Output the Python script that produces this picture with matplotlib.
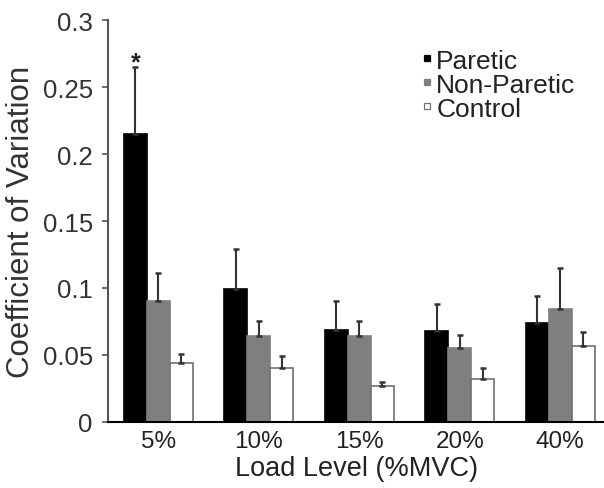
import matplotlib
matplotlib.use("Agg")
import matplotlib.pyplot as plt
from matplotlib.lines import Line2D
import numpy as np

plt.rcParams['font.family'] = ['Liberation Sans', 'DejaVu Sans']

loads = ['5%', '10%', '15%', '20%', '40%']
paretic = [0.215, 0.099, 0.069, 0.068, 0.074]
paretic_err = [0.050, 0.030, 0.021, 0.020, 0.020]
non_paretic = [0.090, 0.064, 0.064, 0.055, 0.084]
non_paretic_err = [0.021, 0.011, 0.011, 0.010, 0.031]
control = [0.044, 0.040, 0.027, 0.032, 0.057]
control_err = [0.007, 0.0095, 0.003, 0.008, 0.010]

fig = plt.figure(figsize=(6.04, 4.89), dpi=100)
ax = fig.add_axes([0.179, 0.135, 0.821, 0.822])

x = np.arange(len(loads))
w = 0.229
err_kw = dict(ecolor='#333333', elinewidth=1.5, capsize=2.2, capthick=1.8)

series = [
    ('Paretic', paretic, paretic_err, 'black', 'black', -w),
    ('Non-Paretic', non_paretic, non_paretic_err, '#7f7f7f', '#7f7f7f', 0),
    ('Control', control, control_err, 'white', '#707070', w),
]
handles = []
for name, vals, errs, fc, ec, off in series:
    ax.bar(x + off, vals, width=w, color=fc, edgecolor=ec, linewidth=1.2,
           yerr=[np.zeros(len(errs)), errs], error_kw=err_kw)
    handles.append(Line2D([], [], marker='s', ls='', markersize=4.5,
                          markerfacecolor=fc, markeredgecolor=ec,
                          markeredgewidth=0.9, label=name))

# significance marker
ax.text(x[0] - w, 0.263, '*', ha='center', va='baseline', fontsize=18,
        fontweight='bold', color='#222222')

ax.set_xlim(-0.5, 4.435)
ax.set_ylim(0, 0.3)
ax.set_xticks(x)
ax.set_xticklabels(loads)
ax.set_yticks([0, 0.05, 0.1, 0.15, 0.2, 0.25, 0.3])
ax.set_yticklabels(['0', '0.05', '0.1', '0.15', '0.2', '0.25', '0.3'])
ax.tick_params(axis='x', length=0, labelsize=17.5, pad=6, colors='#222222')
ax.tick_params(axis='y', length=4, width=1.2, labelsize=18.5, pad=7,
               colors='#555555', labelcolor='#333333')
ax.set_xlabel('Load Level (%MVC)', fontsize=19.5, color='#222222', labelpad=2)
ax.set_ylabel('Coefficient of Variation', fontsize=22.5, color='#333333', labelpad=5)

for s in ['top', 'right']:
    ax.spines[s].set_visible(False)
ax.spines['left'].set_color('#555555')
ax.spines['left'].set_linewidth(1.5)
ax.spines['bottom'].set_color('black')
ax.spines['bottom'].set_linewidth(1.5)

ax.legend(handles=handles, loc='upper left', bbox_to_anchor=(0.611, 0.955),
          frameon=False, fontsize=19, handlelength=0.4, handletextpad=0.15,
          labelspacing=0.0, borderaxespad=0, labelcolor='#222222')

fig.savefig('out.png', dpi=100)
